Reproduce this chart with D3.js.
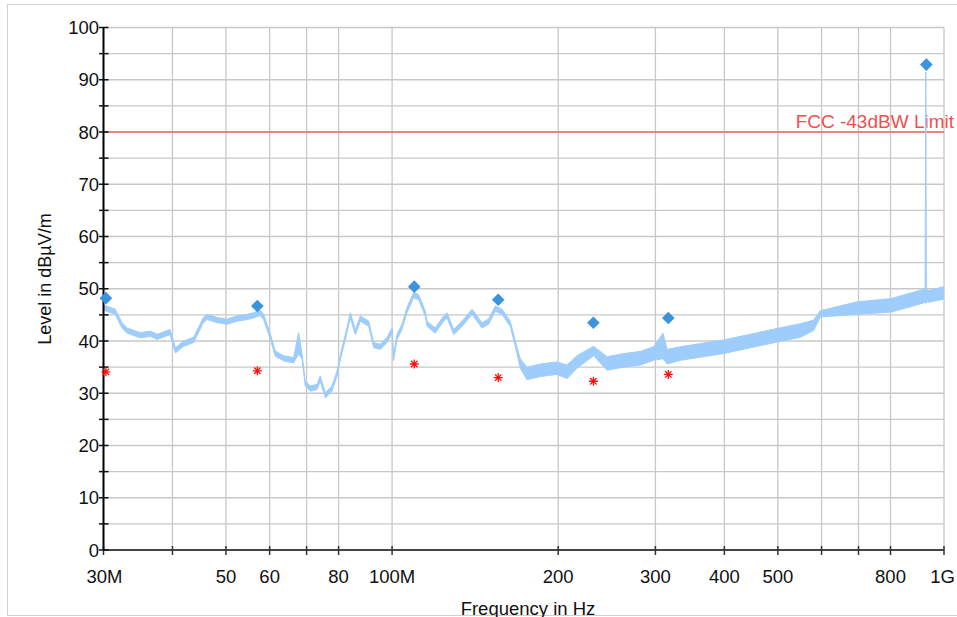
<!DOCTYPE html>
<html>
<head>
<meta charset="utf-8">
<script src="https://cdn.jsdelivr.net/npm/d3@7"></script>
<style>
  body { margin: 0; background: #fff; }
  svg { display: block; font-family: "Liberation Sans", Arial, sans-serif; }
</style>
</head>
<body>
<div id="chart"></div>
<script>
// spectrum trace (MHz, dBuV/m upper / lower edge of the trace)
const traceFreq = [30.0, 31.5, 32.4, 33.1, 35.0, 36.5, 37.5, 39.6, 40.5, 41.9, 43.7, 45.5, 46.2, 48.2, 50.2,
  52.4, 54.6, 56.1, 57.7, 58.5, 60.2, 61.4, 63.6, 66.3, 67.7, 68.7, 69.6, 71.1, 73.1, 74.1, 75.7, 77.8,
  79.5, 80.6, 82.3, 84.0, 85.8, 87.6, 90.7, 92.6, 95.2, 97.9, 100.0, 100.6, 102.1, 104.2, 106.4, 109.4,
  111.7, 114.8, 115.7, 119.7, 124.0, 125.8, 129.3, 133.9, 139.6, 145.5, 149.6, 153.8, 158.2, 163.7,
  167.2, 170.7, 175.5, 185.6, 199.0, 207.5, 216.3, 231.8, 245.2, 262.8, 281.7, 297.8, 309.6, 315.0,
  333.0, 361.8, 398.8, 445.8, 498.3, 549, 580.5, 597, 696, 800, 906, 924, 927, 929, 935, 999]
const traceHi = [46.9, 46.1, 43.5, 42.5, 41.6, 41.9, 41.3, 42.2, 38.7, 40.0, 40.7, 44.5, 45.1, 44.5, 44.2,
  44.8, 45.1, 45.4, 45.9, 45.1, 41.3, 38.1, 37.2, 36.8, 41.6, 37.5, 32.4, 31.4, 31.7, 33.3, 30.1, 31.4,
  34.3, 37.5, 41.3, 45.4, 42.2, 44.8, 43.8, 39.7, 39.4, 40.7, 42.5, 37.2, 41.3, 43.2, 46.4, 49.3,
  48.9, 45.8, 43.8, 42.5, 44.8, 45.4, 42.2, 43.8, 46.1, 43.5, 44.2, 46.7, 46.1, 43.8,
  40.0, 36.6, 35.0, 35.6, 36.0, 35.4, 37.2, 39.0, 37.0, 37.6, 38.0, 38.9, 41.5, 38.4,
  38.9, 39.5, 40.2, 41.3, 42.4, 43.3, 44.0, 45.8, 47.5, 48.1, 49.7, 50.0, 91.5, 50.0, 49.6, 50.4]
const traceLo = [45.9, 45.1, 42.5, 41.5, 40.6, 40.9, 40.3, 41.2, 37.7, 39.0, 39.7, 43.5, 44.1, 43.5, 43.2,
  43.8, 44.1, 44.4, 44.9, 44.1, 40.3, 37.1, 36.2, 35.8, 37.5, 36.5, 31.4, 30.4, 30.7, 32.3, 29.1, 30.4,
  33.3, 36.5, 40.3, 44.4, 41.2, 43.8, 42.8, 38.7, 38.4, 39.7, 41.5, 36.2, 40.3, 42.2, 45.4, 48.3,
  47.9, 44.8, 42.8, 41.5, 43.8, 44.4, 41.2, 42.8, 45.1, 42.5, 43.2, 45.7, 45.1, 42.8,
  39.0, 34.8, 32.6, 33.2, 33.6, 32.8, 34.8, 37.2, 34.4, 35.0, 35.4, 36.3, 36.6, 35.6,
  36.3, 36.9, 37.6, 38.7, 39.8, 40.7, 42.0, 44.6, 45.1, 45.5, 47.1, 47.4, 47.2, 47.6, 47.4, 48.0]

// peak (diamond) and quasi-peak (asterisk) markers
const peakFreq = [30.3, 57.0, 109.7, 155.7, 231.6, 316.6, 929]
const peakLevel = [48.2, 46.7, 50.4, 47.9, 43.5, 44.4, 92.9]
const qpFreq = [30.3, 57.0, 109.7, 155.7, 231.6, 316.6]
const qpLevel = [34.1, 34.3, 35.6, 33.0, 32.3, 33.6]

// limit line
const limitLevel = 80
const limitLabel = 'FCC -43dBW Limit'

// axes
const xTicks = [30, 40, 50, 60, 70, 80, 100, 200, 300, 400, 500, 600, 700, 800, 1000]
const xTickLabels = { 30: '30M', 50: '50', 60: '60', 80: '80', 100: '100M', 200: '200', 300: '300', 400: '400', 500: '500', 800: '800', 1000: '1G' }
const yTicks = d3.range(0, 101, 5)
const yLabelTicks = d3.range(0, 101, 10)

const W = 957, H = 617
const margin = { top: 27.5, right: 13, bottom: 67, left: 103.5 }
const width = W - margin.left - margin.right
const height = H - margin.top - margin.bottom

const svg = d3.select('#chart').append('svg').attr('width', W).attr('height', H)

// outer frame
svg.append('rect')
  .attr('x', 7.5).attr('y', 4.5)
  .attr('width', 960).attr('height', 611)
  .attr('fill', 'none').attr('stroke', '#d0d0d0').attr('stroke-width', 1)

const g = svg.append('g').attr('transform', `translate(${margin.left},${margin.top})`)

const x = d3.scaleLog().domain([30, 1000]).range([0, width])
const y = d3.scaleLinear().domain([0, 100]).range([height, 0])

// grid
g.append('g').selectAll('line').data(yTicks).join('line')
  .attr('x1', 0).attr('x2', width)
  .attr('y1', d => y(d)).attr('y2', d => y(d))
  .attr('stroke', '#c8c8c8').attr('stroke-width', 1.3)
g.append('g').selectAll('line').data(xTicks.slice(1)).join('line')
  .attr('x1', d => x(d)).attr('x2', d => x(d))
  .attr('y1', 0).attr('y2', height)
  .attr('stroke', '#c8c8c8').attr('stroke-width', 1.3)

// limit
g.append('line')
  .attr('x1', 0).attr('x2', width)
  .attr('y1', y(limitLevel)).attr('y2', y(limitLevel))
  .attr('stroke', '#ec6a6a').attr('stroke-width', 1.5)
g.append('text')
  .attr('x', width + 10).attr('y', y(limitLevel) - 4.5)
  .attr('text-anchor', 'end')
  .attr('font-size', 19)
  .attr('fill', '#f04f4f')
  .text(limitLabel)

// trace
const trace = traceFreq.map((f, i) => ({ f, hi: traceHi[i], lo: traceLo[i] }))
const area = d3.area()
  .x(d => x(d.f))
  .y0(d => y(d.lo))
  .y1(d => y(d.hi))
g.append('path')
  .datum(trace)
  .attr('d', area)
  .attr('fill', '#9fcdfb')
  .attr('stroke', '#9fcdfb')
  .attr('stroke-width', 1)
  .attr('stroke-linejoin', 'round')

// axes
const xAxis = g.append('g').attr('transform', `translate(0,${height})`)
xAxis.append('line').attr('x1', 0).attr('x2', width).attr('stroke', '#444').attr('stroke-width', 2)
xAxis.selectAll('.tick').data(xTicks).join('line')
  .attr('x1', d => x(d)).attr('x2', d => x(d))
  .attr('y1', -4).attr('y2', 5)
  .attr('stroke', '#333').attr('stroke-width', 1.5)
xAxis.selectAll('text').data(xTicks.filter(d => xTickLabels[d])).join('text')
  .attr('x', d => x(d)).attr('y', 33)
  .attr('text-anchor', d => d === 30 ? 'start' : (d === 1000 ? 'end' : 'middle'))
  .attr('dx', d => d === 30 ? -17 : (d === 1000 ? 11 : 0))
  .attr('font-size', 18.5)
  .attr('fill', '#111')
  .text(d => xTickLabels[d])

const yAxis = g.append('g')
yAxis.append('line').attr('y1', 0).attr('y2', height).attr('stroke', '#000').attr('stroke-width', 2)
yAxis.selectAll('.tick').data(yTicks).join('line')
  .attr('x1', -4.5).attr('x2', 5)
  .attr('y1', d => y(d)).attr('y2', d => y(d))
  .attr('stroke', '#111').attr('stroke-width', 1.5)
yAxis.selectAll('text').data(yLabelTicks).join('text')
  .attr('x', -4.5).attr('y', d => y(d))
  .attr('dy', '0.36em')
  .attr('text-anchor', 'end')
  .attr('font-size', 18.5)
  .attr('fill', '#111')
  .text(d => d)

// axis titles
svg.append('text')
  .attr('x', 528).attr('y', 615)
  .attr('text-anchor', 'middle')
  .attr('font-size', 18.5)
  .attr('fill', '#111')
  .text('Frequency in Hz')
svg.append('text')
  .attr('transform', 'translate(51,279) rotate(-90)')
  .attr('text-anchor', 'middle')
  .attr('font-size', 18)
  .attr('fill', '#111')
  .text('Level in dBµV/m')

// markers
g.append('g').selectAll('path').data(peakFreq.map((f, i) => ({ f, v: peakLevel[i] }))).join('path')
  .attr('d', d3.symbol().type(d3.symbolSquare).size(80))
  .attr('transform', d => `translate(${x(d.f)},${y(d.v)}) rotate(45)`)
  .attr('fill', '#3a93dc')

const star = 'M-4.5,0H4.5M0,-4.5V4.5M-3.2,-3.2L3.2,3.2M-3.2,3.2L3.2,-3.2'
g.append('g').selectAll('path').data(qpFreq.map((f, i) => ({ f, v: qpLevel[i] }))).join('path')
  .attr('d', star)
  .attr('transform', d => `translate(${x(d.f)},${y(d.v)})`)
  .attr('fill', 'none')
  .attr('stroke', '#ff1010')
  .attr('stroke-width', 1.3)
</script>
</body>
</html>
